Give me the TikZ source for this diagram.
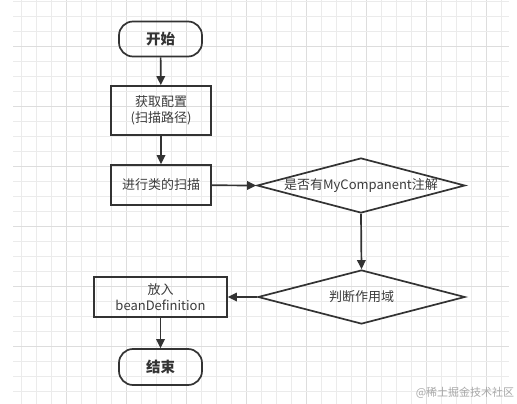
\documentclass[tikz,border=0pt]{standalone}
\usepackage{fontspec}
\setmainfont{Noto Sans CJK SC}
\usetikzlibrary{shapes.geometric,arrows.meta}
\definecolor{ink}{HTML}{333333}
\definecolor{txt}{HTML}{3C3C3C}
\definecolor{gridminor}{HTML}{EBEBEB}
\definecolor{gridmajor}{HTML}{DDDDDD}
\definecolor{wm}{HTML}{A8A8A8}
\tikzset{
  flow/.style={draw=ink, line width=1.7pt, text=txt, font=\fontsize{13}{16}\selectfont, inner sep=0pt, align=center},
  terminal/.style={flow, rounded corners=14pt, minimum width=83pt, minimum height=35pt, font=\bfseries\fontsize{14.5}{16}\selectfont, text=ink},
  procbox/.style={flow, rectangle, minimum width=100pt},
  decision/.style={flow, diamond, shape aspect=3.8},
  link/.style={draw=ink, line width=1.7pt, -{Triangle[length=9pt,width=8.5pt]}}
}
\begin{document}
\begin{tikzpicture}[x=1pt,y=-1pt]
\useasboundingbox (0,0) rectangle (517,404);
\fill[white] (0,0) rectangle (517,404);
% grid
\foreach \i in {0,...,32} {
  \pgfmathtruncatemacro{\m}{mod(\i-3,4)}
  \ifnum\m=0 \draw[gridmajor, line width=0.9pt] (21+15*\i,0) -- (21+15*\i,404);
  \else \draw[gridminor, line width=0.9pt] (21+15*\i,0) -- (21+15*\i,404); \fi
}
\foreach \j in {0,...,26} {
  \pgfmathtruncatemacro{\m}{mod(\j-3,4)}
  \ifnum\m=0 \draw[gridmajor, line width=0.9pt] (13,1+15*\j) -- (509,1+15*\j);
  \else \draw[gridminor, line width=0.9pt] (13,1+15*\j) -- (509,1+15*\j); \fi
}
% nodes
\node[terminal] (start) at (160.5,39) {开始};
\node[procbox, minimum height=49pt] (cfg) at (161,110.5) {获取配置\\(扫描路径)};
\node[procbox, minimum height=40pt] (scan) at (161,185) {进行类的扫描};
\node[decision, minimum width=208pt, minimum height=55pt] (d1) at (361,185.5) {是否有MyCompanent注解};
\node[decision, minimum width=207pt, minimum height=54pt] (d2) at (361.5,297) {判断作用域};
\node[procbox, minimum width=133pt, minimum height=40pt] (put) at (160.5,297) {放入\\beanDefinition};
\node[terminal, minimum height=36pt] (end) at (160.5,367) {结束};
% connectors
\draw[link] (start) -- (cfg);
\draw[link] (cfg) -- (scan);
\draw[link] (scan) -- (d1.west);
\draw[link] (d1.south) -- (d2.north);
\draw[link] (d2.west) -- (put.east);
\draw[link] (put) -- (end);
% watermark
\node[text=wm, font=\fontsize{11}{13}\selectfont, inner sep=0pt] (wmark) at (465,393) {@稀土掘金技术社区};
\end{tikzpicture}
\end{document}
